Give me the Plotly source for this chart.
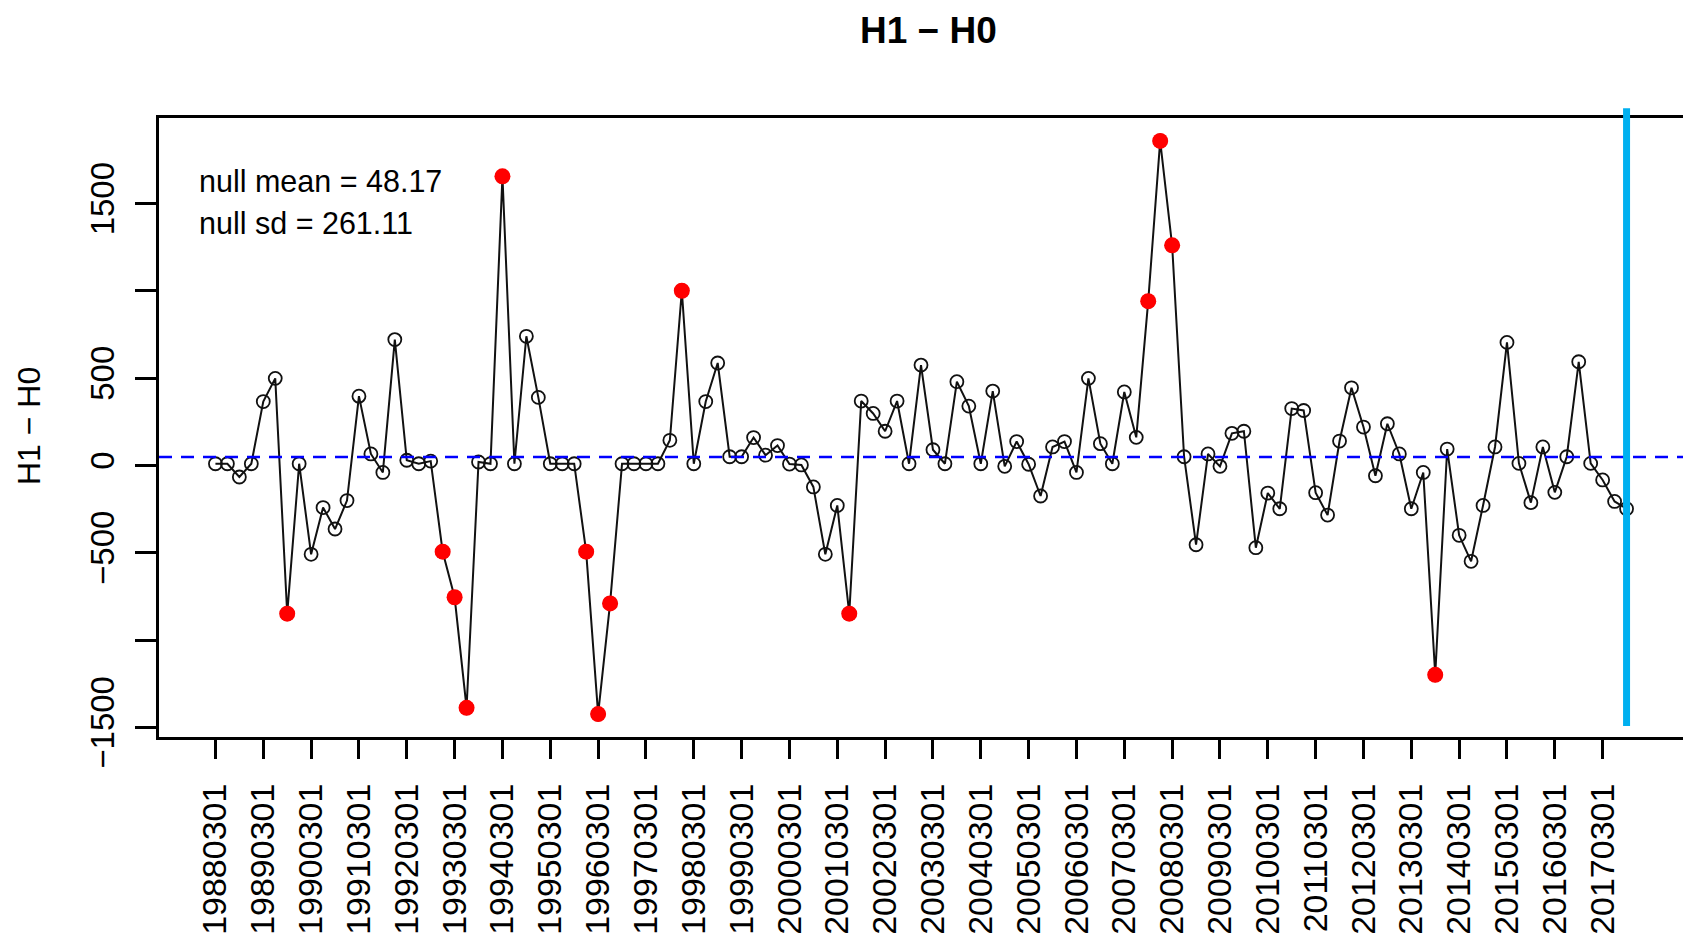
import plotly.graph_objects as go

# H1 - H0 values, quarterly from 1988-03-01 to 2017-09-01 (119 points)
values = [
    10, 10, -66, 10, 366, 499, -849, 10, -509, -241,
    -364, -201, 397, 66, -40, 721, 30, 10, 25, -494,
    -755, -1388, 20, 10, 1656, 10, 740, 390, 10, 10,
    10, -494, -1424, -790, 10, 10, 10, 10, 144, 1001,
    10, 366, 587, 50, 50, 160, 59, 114, 8, 3,
    -123, -509, -229, -849, 369, 298, 196, 369, 10, 575,
    90, 10, 480, 340, 10, 426, -5, 137, 7, -175,
    106, 137, -40, 499, 125, 10, 421, 161, 941, 1859,
    1261, 50, -454, 66, -5, 184, 196, -471, -158, -248,
    326, 315, -156, -284, 140, 445, 220, -59, 239, 66,
    -248, -40, -1199, 94, -400, -549, -229, 106, 705, 12,
    -213, 106, -154, 50, 594, 12, -83, -206, -248,
]
# indices (1-based) of highlighted (red) points
red_points = [7, 20, 21, 22, 25, 32, 33, 34, 40, 54, 79, 80, 81, 103]

tick_labels = [
    "19880301", "19890301", "19900301", "19910301", "19920301", "19930301",
    "19940301", "19950301", "19960301", "19970301", "19980301", "19990301",
    "20000301", "20010301", "20020301", "20030301", "20040301", "20050301",
    "20060301", "20070301", "20080301", "20090301", "20100301", "20110301",
    "20120301", "20130301", "20140301", "20150301", "20160301", "20170301",
]
y_tick_values = [-1500, -1000, -500, 0, 500, 1000, 1500]
y_tick_text = ["\u22121500", "", "\u2212500", "0", "500", "", "1500"]

null_mean = 48.17
null_sd = 261.11

n = len(values)
idx = list(range(1, n + 1))
tick_vals = idx[::4][:len(tick_labels)]

# R-like axis padding (4%)
ymin, ymax = min(values), max(values)
yr = ymax - ymin
xr = n - 1
xrange_ = [1 - 0.04 * xr, n + 0.04 * xr]
yrange_ = [ymin - 0.04 * yr, ymax + 0.04 * yr]

ARIAL = "Liberation Sans, Arial, sans-serif"

fig = go.Figure()
fig.add_trace(go.Scatter(
    x=idx, y=values, mode="lines+markers",
    line=dict(color="#111111", width=2),
    marker=dict(symbol="circle-open", size=13, color="#111111", line=dict(width=1.8)),
    hoverinfo="x+y", showlegend=False,
))
fig.add_trace(go.Scatter(
    x=red_points, y=[values[i - 1] for i in red_points], mode="markers",
    marker=dict(symbol="circle", size=16, color="#FF0000"),
    showlegend=False,
))

# null mean line
fig.add_shape(type="line", xref="paper", x0=0, x1=1, yref="y", y0=null_mean, y1=null_mean,
              line=dict(color="#0000FF", width=2.5, dash="13px,9px"))
# vertical line at last observation
fig.add_shape(type="line", xref="x", x0=n, x1=n, yref="paper", y0=0.0178, y1=1.0157,
              line=dict(color="#00B0F0", width=7))

fig.add_annotation(text="null mean = %.2f" % null_mean, xref="paper", yref="paper",
                   x=0.0251, y=0.8982, xanchor="left", yanchor="middle", showarrow=False,
                   font=dict(family=ARIAL, size=30.5, color="black"))
fig.add_annotation(text="null sd = %.2f" % null_sd, xref="paper", yref="paper",
                   x=0.0251, y=0.8304, xanchor="left", yanchor="middle", showarrow=False,
                   font=dict(family=ARIAL, size=30.5, color="black"))
fig.add_annotation(text="<b>H1 \u2212 H0</b>", xref="paper", yref="paper",
                   x=0.5051, y=1.1415, xanchor="center", yanchor="middle", showarrow=False,
                   font=dict(family=ARIAL, size=37, color="black"))
fig.add_annotation(text="H1 \u2212 H0", xref="paper", yref="paper", textangle=-90,
                   x=-0.0853, y=0.5024, xanchor="center", yanchor="middle", showarrow=False,
                   font=dict(family=ARIAL, size=32, color="black"))

fig.update_layout(
    width=1683, height=937,
    margin=dict(l=159, r=0, t=118, b=200, autoexpand=False),
    paper_bgcolor="white", plot_bgcolor="white",
    xaxis=dict(range=xrange_, showgrid=False, zeroline=False,
               showline=True, mirror=True, linecolor="black", linewidth=3,
               ticks="outside", ticklen=19, tickwidth=3, tickcolor="black",
               tickmode="array", tickvals=tick_vals, ticktext=tick_labels,
               tickangle=-90, ticklabelstandoff=11,
               tickfont=dict(family=ARIAL, size=34, color="black")),
    yaxis=dict(range=yrange_, showgrid=False, zeroline=False,
               showline=True, mirror=False, linecolor="black", linewidth=3,
               ticks="outside", ticklen=21, tickwidth=3, tickcolor="black",
               tickmode="array", tickvals=y_tick_values, ticktext=y_tick_text,
               tickangle=-90, ticklabelstandoff=8,
               tickfont=dict(family=ARIAL, size=33, color="black")),
)

fig.write_html("out.html", config={"displayModeBar": False},
               post_script="document.body.style.margin='0';")
